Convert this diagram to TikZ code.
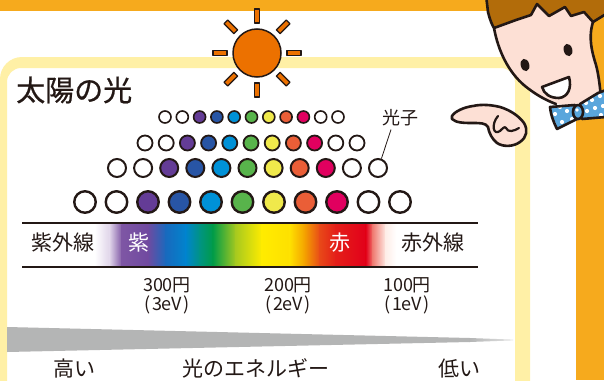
\documentclass[tikz,border=0pt]{standalone}
\usepackage{fontspec}
\setmainfont{Noto Sans CJK JP}
\newfontfamily\headfont[FakeBold=0.7]{Noto Sans CJK JP}
\usetikzlibrary{calc}

\definecolor{bandorange}{RGB}{246,170,29}
\definecolor{frameyellow}{RGB}{255,240,166}
\definecolor{ink}{RGB}{35,24,21}
\definecolor{sunorange}{RGB}{236,113,0}
\definecolor{cpurple}{RGB}{100,60,150}
\definecolor{cblue}{RGB}{40,85,165}
\definecolor{ccyan}{RGB}{0,145,215}
\definecolor{cgreen}{RGB}{88,180,75}
\definecolor{cyellow}{RGB}{240,233,75}
\definecolor{corange}{RGB}{234,94,55}
\definecolor{ccrimson}{RGB}{225,0,95}
\definecolor{wedgegray}{RGB}{180,181,181}
\definecolor{skin}{RGB}{253,224,213}
\definecolor{hair}{RGB}{178,108,10}
\definecolor{tieblue}{RGB}{90,166,220}
% spectrum stops
\definecolor{s1}{RGB}{222,210,232}
\definecolor{s2}{RGB}{126,86,164}
\definecolor{s3}{RGB}{112,74,160}
\definecolor{s4}{RGB}{24,106,190}
\definecolor{s5}{RGB}{0,132,205}
\definecolor{s6}{RGB}{0,148,130}
\definecolor{s7}{RGB}{0,155,72}
\definecolor{s8}{RGB}{168,202,30}
\definecolor{s9}{RGB}{255,236,0}
\definecolor{s10}{RGB}{254,224,0}
\definecolor{s11}{RGB}{244,160,0}
\definecolor{s12}{RGB}{232,72,24}
\definecolor{s13}{RGB}{228,30,25}
\definecolor{s14}{RGB}{226,0,26}
\definecolor{s15}{RGB}{240,125,115}
\definecolor{s16}{RGB}{254,238,232}

\newcommand\fsz[1]{\fontsize{#1}{#1}\selectfont}

\begin{document}
\begin{tikzpicture}[x=1pt,y=-1pt,
  txt/.style={inner sep=0pt, text=ink},
  photon/.style={circle, draw=ink, inner sep=0pt},
  sunray/.style={fill=sunorange, draw=ink, line width=1.3pt, line join=round},
  toon/.style={draw=ink, line width=2.6pt, line join=round, line cap=round}]
\useasboundingbox (0,0) rectangle (604,380);
\clip (0,0) rectangle (604,380);
\fill[white] (0,0) rectangle (604,380);

% orange outer frame
\fill[bandorange] (0,0) rectangle (604,11);
\fill[bandorange] (576,0) rectangle (604,380);

% pale yellow panel border
\fill[frameyellow, even odd rule]
  [rounded corners=22pt] (0,57) rectangle (530,430)
  [rounded corners=14pt] (7,68) rectangle (515,430);

% sun
\foreach \a in {0,45,...,315}
  \draw[sunray, shift={(257,53)}, rotate=\a] (30,-2.6) rectangle (44,2.6);
\filldraw[fill=sunorange, draw=ink, line width=1.5pt] (257,53) circle[radius=24pt];

% title
\node[txt, anchor=west] (title) at (16,90) {\headfont\fsz{29pt}太陽の光};

% photons, four rows
\foreach \ry/\xo/\dx/\dd/\lw [count=\r] in
  {117/165/17.3/12/1.6, 143/145/21.2/15/1.8, 168/117/26.1/18/2.0, 202/85/31.5/21.5/2.4}
{
  \foreach \cc [count=\i] in {white,white,cpurple,cblue,ccyan,cgreen,cyellow,corange,ccrimson,white,white}
  {
    \pgfmathsetmacro\xx{\xo+(\i-1)*\dx}
    \node[photon, minimum size=\dd pt, line width=\lw pt, fill=\cc] (c\r-\i) at (\xx,\ry) {};
  }
}
\node[txt] (plabel) at (400,118) {\fsz{18pt}光子};
\draw[ink, line width=0.8pt] ($(plabel.south)+(-9,3)$) -- (c3-11.70);

% spectrum band
\foreach \xa/\ca/\xb/\cb in {95/white/110/s1, 110/s1/122/s2, 122/s2/148/s3, 148/s3/166/s4,
  166/s4/186/s5, 186/s5/200/s6, 200/s6/213/s7, 213/s7/236/s8, 236/s8/262/s9,
  262/s9/290/s10, 290/s10/305/s11, 305/s11/320/s12, 320/s12/336/s13, 336/s13/366/s14,
  366/s14/373/s15, 373/s15/386/s16, 386/s16/396/white}
  \shade[left color=\ca, right color=\cb] (\xa-0.3,224) rectangle (\xb+0.3,266);
\draw[ink, line width=2pt] (22,223) -- (478,223);
\draw[ink, line width=2pt] (22,267) -- (478,267);

\node[txt] (uv) at (63,243) {\fsz{21pt}紫外線};
\node[txt, text=white] (violet) at (139,243) {\fsz{21pt}紫};
\node[txt, text=white] (red) at (340,243) {\fsz{21pt}赤};
\node[txt] (ir) at (433,243) {\fsz{21pt}赤外線};

% prices
\node[txt] (p300) at (167,285) {\fsz{18pt}300円};
\node[txt] (e300) at (167,305) {\fsz{18pt}(\kern1.5pt3eV\kern1.5pt)};
\node[txt] (p200) at (288,285) {\fsz{18pt}200円};
\node[txt] (e200) at (288,305) {\fsz{18pt}(\kern1.5pt2eV\kern1.5pt)};
\node[txt] (p100) at (407,285) {\fsz{18pt}100円};
\node[txt] (e100) at (407,305) {\fsz{18pt}(\kern1.5pt1eV\kern1.5pt)};

% energy wedge
\fill[wedgegray] (7,327) -- (470,338) -- (470,342) -- (7,352) -- cycle;
\shade[left color=wedgegray, right color=wedgegray!35!white] (469.5,338) -- (513,339.6) -- (513,340.4) -- (469.5,342) -- cycle;

\node[txt] (high) at (74,368.5) {\fsz{21pt}高い};
\node[txt] (energy) at (256,368.5) {\fsz{21pt}光のエネルギー};
\node[txt] (low) at (459,368.5) {\fsz{21pt}低い};

% boy: face
\fill[skin] (486,-5) -- (488,12) .. controls (490,20) and (492,25) .. (494,28)
  .. controls (498,50) and (508,72) .. (525,86) .. controls (535,94) and (545,100) .. (553,103)
  -- (578,108) -- (601,97)
  .. controls (600,85) and (598,72) .. (596,65) .. controls (592,52) and (588,38) .. (593,22)
  -- (604,15) -- (604,-5) -- cycle;
% hair
\fill[hair] (486,-5) -- (488,12) .. controls (490,20) and (492,25) .. (494,28)
  -- (516,20) -- (531,15) -- (537,4) -- (549,16) -- (565,7) -- (571,16) -- (584,12) -- (593,22)
  -- (604,15) -- (604,-5) -- cycle;
\draw[toon] (486,-5) -- (488,12) .. controls (490,20) and (492,25) .. (494,28)
  .. controls (498,50) and (508,72) .. (525,86) .. controls (535,94) and (545,100) .. (556,104);
\draw[toon] (494,28) -- (516,20) -- (531,15) -- (537,4) -- (549,16) -- (565,7) -- (571,16)
  -- (584,12) -- (593,22) -- (606,14);
\draw[toon] (593,22) .. controls (588,38) and (592,52) .. (596,65)
  .. controls (598,72) and (600,85) .. (601,99);
% eyes
\fill[ink] (568,50) ellipse[x radius=4.3pt, y radius=6.3pt, rotate=15];
\fill[ink] (525,65) ellipse[x radius=4.3pt, y radius=6.3pt, rotate=15];
% mouth
\filldraw[fill=white, toon] (542,87) -- (569,77) .. controls (572,88) and (568,97) .. (559,98)
  .. controls (550,98) and (544,94) .. cycle;
% bow tie
\path[fill=tieblue] (550,107) .. controls (551,116) and (554,123) .. (557,129) -- (577,119) -- (575,105) -- cycle;
\path[fill=tieblue] (580,104) -- (598,93) -- (606,90) -- (606,117) -- (582,119) -- cycle;
\begin{scope}
  \clip (550,107) .. controls (551,116) and (554,123) .. (557,129) -- (577,119) -- (575,105) -- cycle;
  \foreach \dx/\dy in {555/114, 562/122, 567/111, 572/119, 554/124, 560/107, 574/126}
    \fill[white] (\dx,\dy) circle[radius=2.1pt];
\end{scope}
\begin{scope}
  \clip (580,104) -- (598,93) -- (606,90) -- (606,117) -- (582,119) -- cycle;
  \foreach \dx/\dy in {592/100, 600/96, 595/108, 587/111, 603/106, 586/103, 601/115}
    \fill[white] (\dx,\dy) circle[radius=2.1pt];
\end{scope}
\draw[toon] (550,107) .. controls (551,116) and (554,123) .. (557,129) -- (577,119) -- (575,105) -- cycle;
\draw[toon] (580,104) -- (598,93) -- (606,90) -- (606,117) -- (582,119) -- cycle;
\filldraw[fill=tieblue, toon] (578,112) ellipse[x radius=5pt, y radius=7pt];
\fill[white] (577,110) circle[radius=1.8pt];

% pointing hand
\filldraw[fill=skin, toon]
  (452,116) .. controls (455,111) and (465,107) .. (473,106)
  .. controls (482,104) and (492,105) .. (500,107)
  .. controls (510,110) and (519,116) .. (524,123)
  .. controls (528,130) and (527,137) .. (520,142)
  .. controls (513,147) and (503,147) .. (497,143)
  .. controls (492,139) and (489,133) .. (488,127)
  .. controls (486,123) and (480,123) .. (473,123)
  .. controls (465,123) and (456,123) .. (452,119) -- cycle;
\draw[toon, line width=2.2pt] (498,116) .. controls (491,124) and (493,136) .. (500,131)
  .. controls (503,128) and (505,126) .. (506,128) .. controls (508,133) and (514,131) .. (519,128);
\end{tikzpicture}
\end{document}
